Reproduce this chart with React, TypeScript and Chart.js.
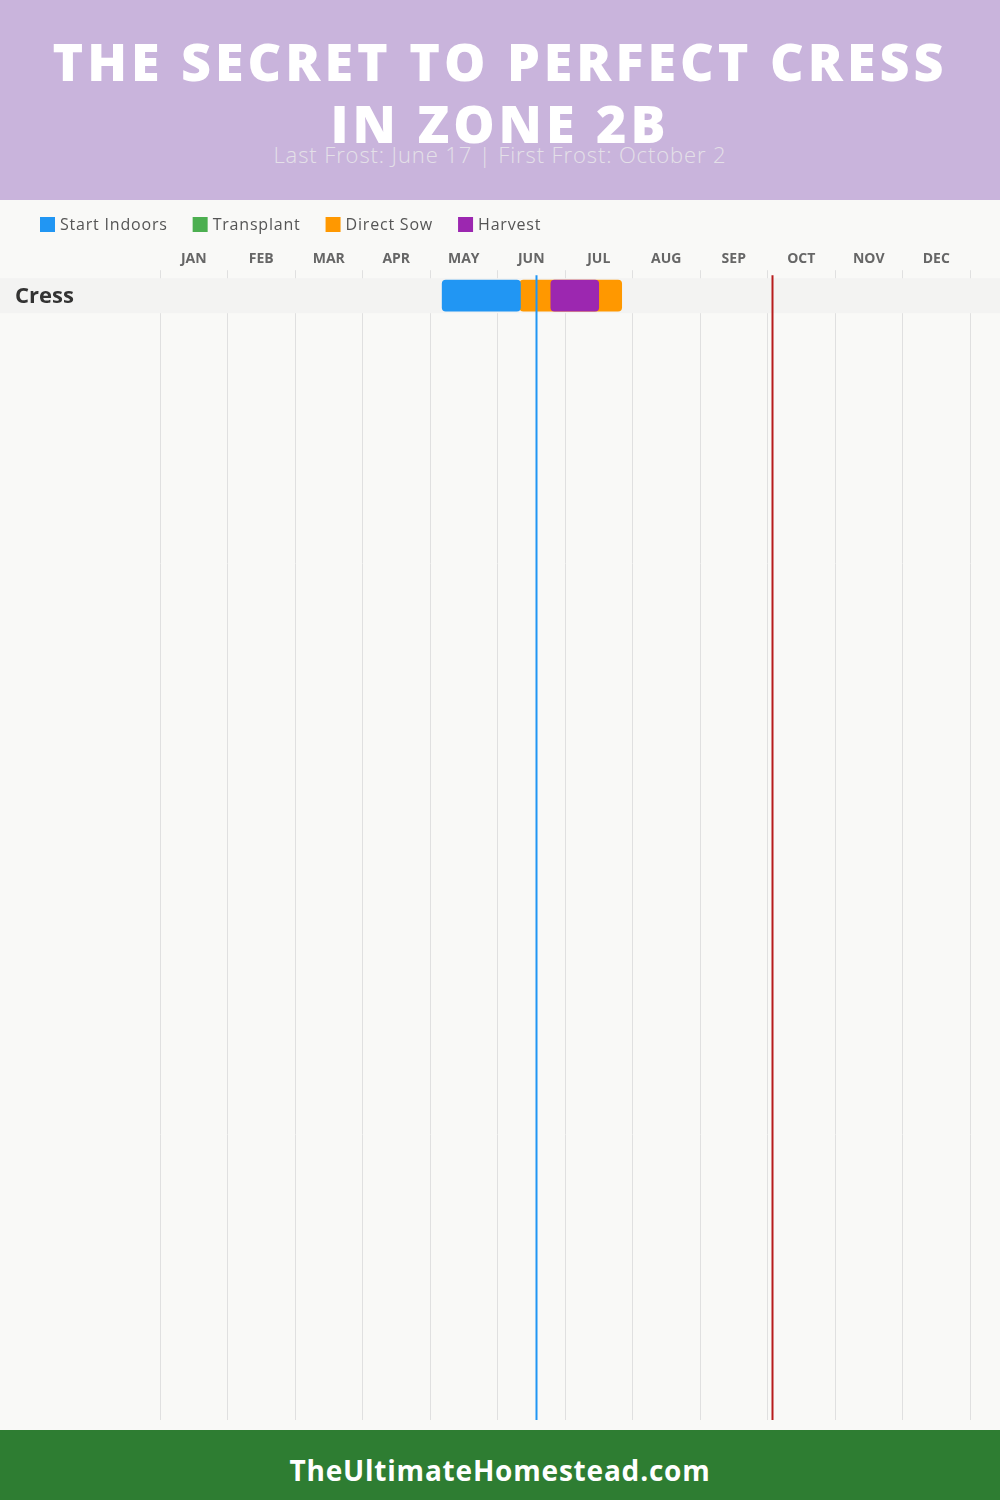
import React, { useEffect, useRef } from 'react';
import { Chart, registerables } from 'chart.js';

Chart.register(...registerables);

// ---------- data ----------
const titleText = 'THE SECRET TO PERFECT CRESS IN ZONE 2B';
const subtitleText = 'Last Frost: June 17 | First Frost: October 2';
const footerText = 'TheUltimateHomestead.com';

const months = ['JAN', 'FEB', 'MAR', 'APR', 'MAY', 'JUN', 'JUL', 'AUG', 'SEP', 'OCT', 'NOV', 'DEC'];
const crops = ['Cress'];

const seriesNames = ['Start Indoors', 'Transplant', 'Direct Sow', 'Harvest'];
const seriesColors = ['#2196F3', '#4CAF50', '#FF9800', '#9C27B0'];

// ranges in months since Jan 1 (one entry per crop, null = none)
const startIndoors: ([number, number] | null)[] = [[4.18, 5.34]];
const transplant: ([number, number] | null)[] = [null];
const directSow: ([number, number] | null)[] = [[5.33, 6.84]];
const harvest: ([number, number] | null)[] = [[5.79, 6.5]];

const lastFrost = 5.57; // June 17
const firstFrost = 9.07; // October 2

// ---------- layout / style ----------
const CANVAS_W = 1000;
const CANVAS_H = 1230;
const ROW_H = 35;
const PLOT_TOP = 78;
const PLOT_BOTTOM_PAD = 10;
const PLOT_H = CANVAS_H - PLOT_TOP - PLOT_BOTTOM_PAD;
const FONT = "'Open Sans', 'Noto Sans', sans-serif";

const seriesData = [startIndoors, transplant, directSow, harvest];
const seriesOrder = [1, 2, 3, 0];

const Y_MIN = -0.5;
const Y_MAX = -0.5 + PLOT_H / ROW_H;

const overlayPlugin = {
  id: 'overlay',
  beforeDatasetsDraw(chart: any) {
    const { ctx, scales } = chart;
    const y = scales.y;
    ctx.save();
    crops.forEach((name, i) => {
      const a = y.getPixelForValue(i - 0.5);
      const b = y.getPixelForValue(i + 0.5);
      const top = Math.min(a, b);
      const h = Math.abs(b - a);
      ctx.fillStyle = '#F3F3F2';
      ctx.fillRect(0, top, chart.width, h);
      ctx.fillStyle = '#333333';
      ctx.font = `700 22px ${FONT}`;
      ctx.textBaseline = 'middle';
      ctx.textAlign = 'left';
      ctx.fillText(name, 15, top + h / 2 + 1);
    });
    ctx.restore();
  },
  afterDatasetsDraw(chart: any) {
    const { ctx, scales, chartArea } = chart;
    const x = scales.x;
    ctx.save();
    const lines: [number, string][] = [
      [lastFrost, '#2196F3'],
      [firstFrost, '#B71C1C'],
    ];
    lines.forEach(([v, c]) => {
      const px = Math.round(x.getPixelForValue(v)) + 0.5;
      ctx.strokeStyle = c;
      ctx.lineWidth = 2;
      ctx.beginPath();
      ctx.moveTo(px, chartArea.top - 3);
      ctx.lineTo(px, chartArea.bottom);
      ctx.stroke();
    });
    ctx.restore();
  },
  afterDraw(chart: any) {
    const { ctx } = chart;
    ctx.save();
    ctx.font = `400 16px ${FONT}`;
    (ctx as any).letterSpacing = '0.8px';
    ctx.textBaseline = 'middle';
    ctx.textAlign = 'left';
    let cx = 40;
    const cy = 24.5;
    seriesNames.forEach((name, i) => {
      ctx.fillStyle = seriesColors[i];
      ctx.fillRect(cx, cy - 7.5, 15, 15);
      ctx.fillStyle = '#555555';
      ctx.fillText(name, cx + 20, cy + 1);
      cx += 20 + ctx.measureText(name).width + 25;
    });
    ctx.restore();
  },
};

function GanttChart() {
  const ref = useRef<HTMLCanvasElement | null>(null);
  useEffect(() => {
    if (!ref.current) return;
    const datasets = seriesNames.map((name, s) => ({
      label: name,
      data: crops
        .map((_, i) => (seriesData[s][i] ? { x: seriesData[s][i], y: i } : null))
        .filter((d) => d !== null),
      backgroundColor: seriesColors[s],
      borderWidth: 0,
      borderRadius: 4,
      borderSkipped: false,
      barThickness: 31,
      grouped: false,
      order: seriesOrder[s],
    }));
    const chart = new Chart(ref.current, {
      type: 'bar',
      data: { datasets } as any,
      options: {
        indexAxis: 'y',
        animation: false,
        responsive: false,
        events: [],
        layout: { padding: { left: 160, right: 30, top: 47.4, bottom: PLOT_BOTTOM_PAD } },
        plugins: { legend: { display: false }, tooltip: { enabled: false } },
        scales: {
          x: { type: 'linear', min: 0, max: 12, display: false, bounds: 'data', offset: false },
          x2: {
            type: 'category',
            position: 'top',
            labels: months,
            offset: true,
            grid: { offset: true, color: '#E0E0E0', lineWidth: 1, tickLength: 8, drawTicks: true },
            border: { display: false },
            ticks: { color: '#666666', font: { family: FONT, size: 14, weight: 'bold' }, padding: 3 },
          },
          y: {
            type: 'linear',
            reverse: true,
            bounds: 'data',
            offset: false,
            grid: { offset: false },
            min: Y_MIN,
            max: Y_MAX,
            display: false,
          },
        },
      } as any,
      plugins: [overlayPlugin],
    });
    return () => chart.destroy();
  }, []);
  return <canvas ref={ref} width={CANVAS_W} height={CANVAS_H} style={{ display: 'block' }} />;
}

export default function App() {
  return (
    <div
      style={{
        position: 'absolute',
        left: 0,
        top: 0,
        width: 1000,
        height: 1500,
        overflow: 'hidden',
        background: '#F9F9F7',
        fontFamily: FONT,
      }}
    >
      <div
        style={{
          height: 200,
          background: '#C9B4DC',
          position: 'relative',
          textAlign: 'center',
        }}
      >
        <div
          style={{
            position: 'absolute',
            left: 40,
            right: 40,
            top: 30,
            color: '#FFFFFF',
            fontWeight: 800,
            fontSize: 52,
            letterSpacing: '4px',
            lineHeight: '62px',
          }}
        >
          {titleText}
        </div>
        <div
          style={{
            position: 'absolute',
            left: 0,
            right: 0,
            top: 139,
            color: '#E4E0E8',
            fontWeight: 300,
            fontSize: 22,
            letterSpacing: '0.9px',
            lineHeight: '30px',
          }}
        >
          {subtitleText}
        </div>
      </div>
      <GanttChart />
      <div
        style={{
          position: 'absolute',
          left: 0,
          top: 1430,
          width: 1000,
          height: 70,
          background: '#2E7D32',
          color: '#FFFFFF',
          fontWeight: 700,
          fontSize: 28,
          letterSpacing: '0.8px',
          lineHeight: '70px',
          paddingTop: 5,
          boxSizing: 'border-box',
          textAlign: 'center',
        }}
      >
        {footerText}
      </div>
    </div>
  );
}
